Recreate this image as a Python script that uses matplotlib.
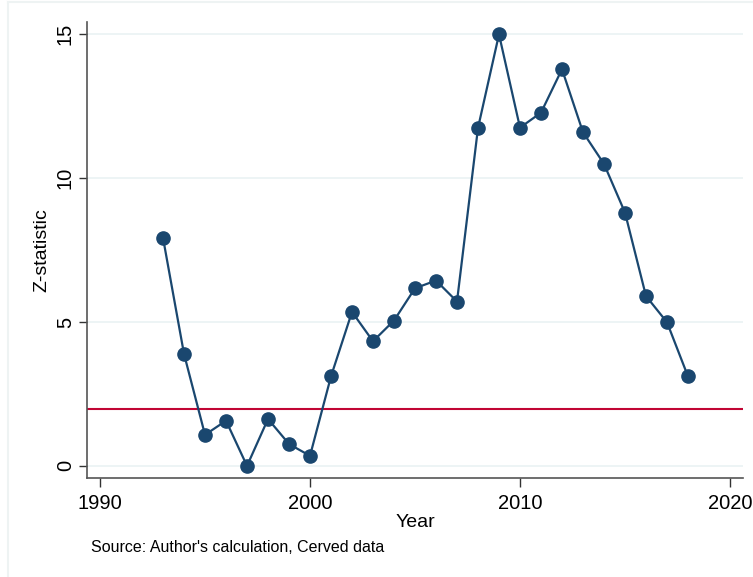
import numpy as np
import matplotlib.pyplot as plt
from matplotlib.lines import Line2D

plt.rcParams['font.family'] = ['Liberation Sans', 'DejaVu Sans']

# z-statistic by year
years = [1993, 1994, 1995, 1996, 1997, 1998, 1999, 2000, 2001, 2002, 2003,
         2004, 2005, 2006, 2007, 2008, 2009, 2010, 2011, 2012, 2013, 2014,
         2015, 2016, 2017, 2018]
zstat = [7.92, 3.89, 1.08, 1.57, 0.0, 1.63, 0.76, 0.35, 3.11, 5.35, 4.33,
         5.05, 6.17, 6.44, 5.71, 11.74, 14.99, 11.75, 12.27, 13.78, 11.59,
         10.49, 8.80, 5.90, 4.99, 3.11]
crit = 1.96
xticks = [1990, 2000, 2010, 2020]
yticks = [0, 5, 10, 15]

navy = '#1a476f'
cranberry = '#c10534'
gridc = '#eaf2f3'

fig = plt.figure(figsize=(7.53, 5.77), dpi=100)
ax = fig.add_axes([87 / 753, 1 - 478 / 577, (743 - 87) / 753, (478 - 22) / 577])

ax.axhline(crit, color=cranberry, lw=1.5, zorder=2)
ax.plot(years, zstat, color=navy, lw=1.6, marker='o', ms=9.5,
        mfc=navy, mec=navy, zorder=3)

ax.set_xlim(1989.38, 2020.62)
ax.set_ylim(-0.42, 15.42)
ax.set_xticks(xticks)
ax.set_yticks(yticks)
ax.grid(axis='y', color=gridc, lw=1.2, zorder=0)
ax.set_axisbelow(True)

for s in ['top', 'right']:
    ax.spines[s].set_visible(False)
for s in ['left', 'bottom']:
    ax.spines[s].set_color('#555555')
    ax.spines[s].set_linewidth(1.2)

ax.tick_params(axis='x', length=6.5, width=1.0, color='#333333',
               labelsize=14.5, pad=5)
ax.tick_params(axis='y', length=5.8, width=1.0, color='#333333',
               labelsize=14.5, pad=3)
for lab in ax.get_yticklabels():
    lab.set_rotation(90)
    lab.set_va('center')

ax.set_xlabel('Year', fontsize=14, labelpad=1)
ax.set_ylabel('Z-statistic', fontsize=14, labelpad=4)

fig.text(91 / 753, 1 - 548 / 577, "Source: Author's calculation, Cerved data",
         fontsize=11.5, ha='left', va='center')

# light outer frame
fig.add_artist(Line2D([8 / 753, 8 / 753], [0, 1 - 2 / 577],
                      transform=fig.transFigure, color='#eef3f3', lw=1.5))
fig.add_artist(Line2D([8 / 753, 1], [1 - 2 / 577, 1 - 2 / 577],
                      transform=fig.transFigure, color='#eef3f3', lw=1.5))

fig.savefig('out.png', dpi=100)
